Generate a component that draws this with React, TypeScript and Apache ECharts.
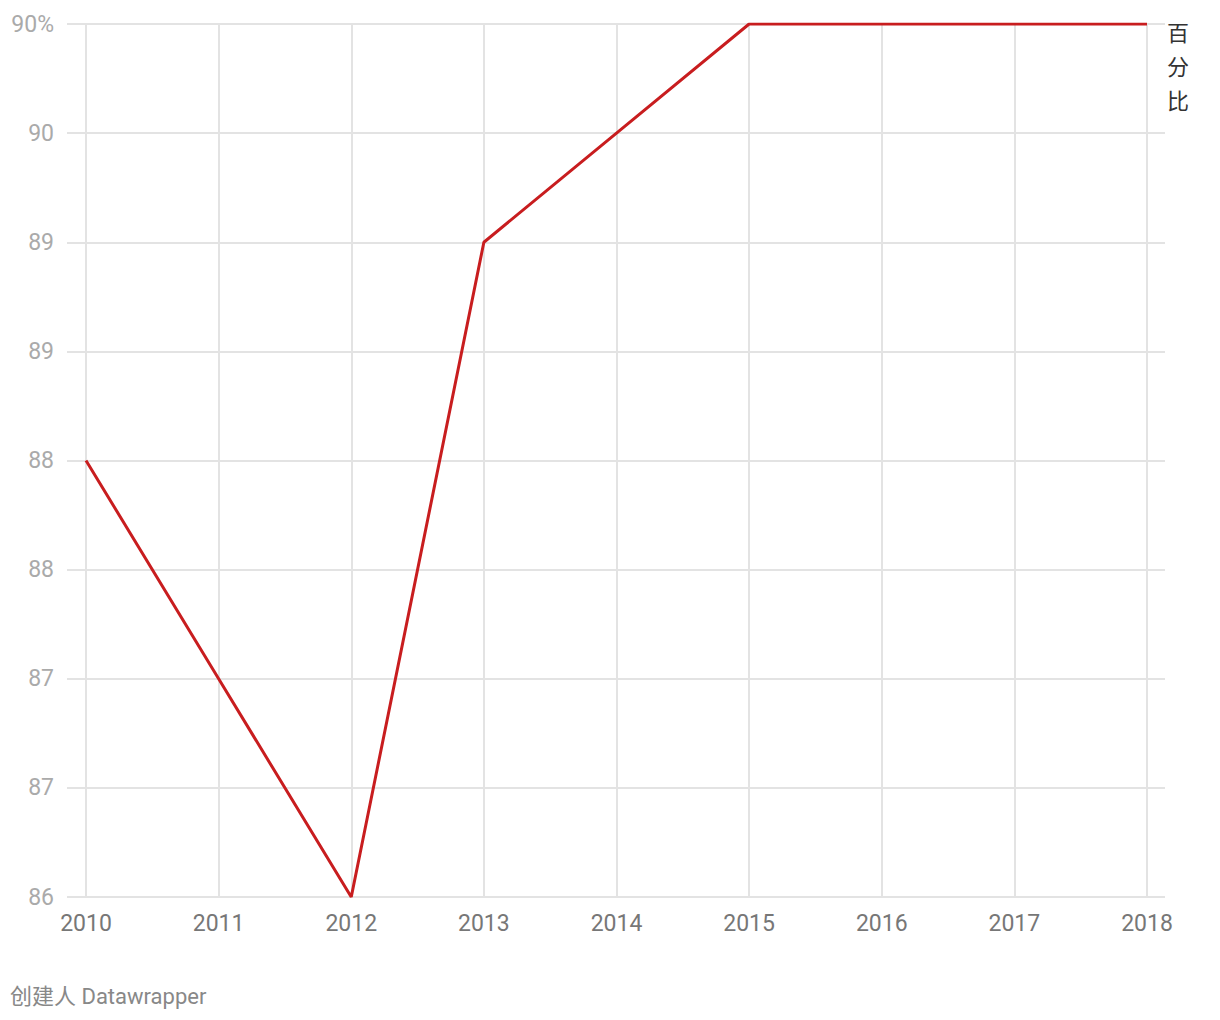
import React, { useEffect, useRef } from "react";
import * as echarts from "echarts";

const years = [2010, 2011, 2012, 2013, 2014, 2015, 2016, 2017, 2018];
const values = [88, 87, 86, 89, 89.5, 90, 90, 90, 90];
const seriesName = "百分比";
const credit = "创建人 Datawrapper";

export default function App() {
  const ref = useRef<HTMLDivElement>(null);
  useEffect(() => {
    if (!ref.current) return;
    const chart = echarts.init(ref.current, null, { renderer: "svg" });
    chart.setOption({
      animation: false,
      textStyle: { fontFamily: "Roboto" },
      grid: [
        { left: 67, right: 55, top: 24, bottom: 123 },
        { left: 86, right: 73, top: 24, bottom: 123 },
      ],
      xAxis: [
        { type: "value", gridIndex: 0, min: 0, max: 1, show: false },
        {
          type: "value",
          gridIndex: 1,
          min: 2010,
          max: 2018,
          interval: 1,
          axisLine: { show: false },
          axisTick: { show: false },
          axisLabel: {
            color: "#777",
            fontSize: 23,
            margin: 15,
            formatter: (v: number) => String(v),
          },
          splitLine: { show: true, lineStyle: { color: "#e3e3e3", width: 2 } },
        },
      ],
      yAxis: [
        {
          type: "value",
          gridIndex: 0,
          min: 86,
          max: 90,
          interval: 0.5,
          axisLine: { show: false },
          axisTick: { show: false },
          axisLabel: {
            color: "#aaa",
            fontSize: 23,
            margin: 13,
            formatter: (v: number) => (v === 90 ? "90%" : String(Math.round(v))),
          },
          splitLine: { show: true, lineStyle: { color: "#e3e3e3", width: 2 } },
        },
        { type: "value", gridIndex: 1, min: 86, max: 90, show: false },
      ],
      series: [
        {
          name: seriesName,
          type: "line",
          xAxisIndex: 1,
          yAxisIndex: 1,
          data: years.map((y, i) => [y, values[i]]),
          showSymbol: false,
          lineStyle: { color: "#c81d1f", width: 3 },
          itemStyle: { color: "#c81d1f" },
        },
      ],
      graphic: [
        {
          type: "text",
          left: 1167,
          top: 14,
          style: {
            text: seriesName.split("").join("\n"),
            fill: "#333",
            font: "22px 'Noto Sans CJK SC'",
            lineHeight: 34,
          },
        },
        {
          type: "text",
          left: 10,
          top: 985,
          style: {
            text: credit,
            fill: "#888",
            font: "22px Roboto, 'Noto Sans CJK SC'",
          },
        },
      ],
    });
    return () => chart.dispose();
  }, []);
  return <div ref={ref} style={{ width: 1220, height: 1020, position: "absolute", left: 0, top: 0 }} />;
}
